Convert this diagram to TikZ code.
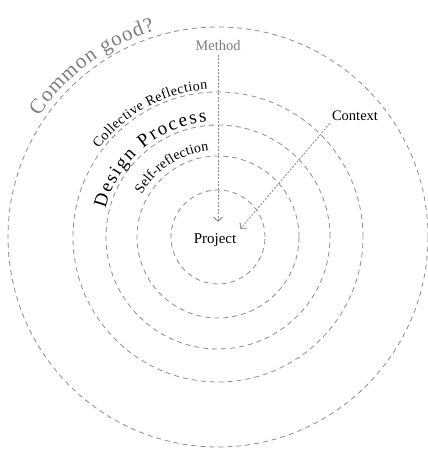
\documentclass[tikz,border=0pt]{standalone}
\usepackage{fontspec}
\setmainfont{Liberation Serif}
\usetikzlibrary{decorations.text,arrows.meta}
\definecolor{cgray}{RGB}{140,140,140}
\definecolor{tgray}{RGB}{125,125,125}
\definecolor{agray}{RGB}{135,135,135}
\begin{document}
\begin{tikzpicture}[x=1pt,y=1pt,
  ring/.style={draw=cgray, line width=0.8pt, dash pattern=on 5pt off 4pt},
  arr/.style={draw=agray, line width=0.8pt, dash pattern=on 2pt off 1.5pt,
    -{Straight Barb[length=4pt,width=9pt,line width=0.9pt]}},
  lbl/.style={font=\fontsize{14.5}{14.5}\selectfont, anchor=base}]
\useasboundingbox (0,0) rectangle (428,455);
\coordinate (O) at (218,218);
\foreach \r in {47,81,112,145,210} \draw[ring] (O) circle[radius=\r pt];

\path[decorate, decoration={text along path, text align=fit to path,
  text={|\fontsize{21}{21}\selectfont\color{tgray}|Common good?}}]
  ([shift={(146:216pt)}]O) arc[start angle=146, end angle=107, radius=216pt];
\path[decorate, decoration={text along path, text align=fit to path,
  text={|\fontsize{14}{14}\selectfont|Collective Reflection}}]
  ([shift={(143.5:148pt)}]O) arc[start angle=143.5, end angle=94, radius=148pt];
\path[decorate, decoration={text along path, text align=fit to path,
  text={|\fontsize{19}{19}\selectfont|Design Process}}]
  ([shift={(166:116pt)}]O) arc[start angle=166, end angle=95.5, radius=116pt];
\path[decorate, decoration={text along path, text align=fit to path,
  text={|\fontsize{14}{14}\selectfont|Self-reflection}}]
  ([shift={(151:87pt)}]O) arc[start angle=151, end angle=96, radius=87pt];

\node[lbl, text=tgray] (method) at (218,404) {Method};
\node[lbl, inner sep=2pt] (context) at (355,334) {Context};
\node[font=\fontsize{15}{15}\selectfont, anchor=base, text height=11pt,
  text depth=3pt, inner sep=4pt] (project) at (215,211) {Project};

\draw[arr, shorten >=7pt] (method.south) -- (method.south |- project.north);
\draw[arr] (context.south west) -- (project.north east);
\end{tikzpicture}
\end{document}
